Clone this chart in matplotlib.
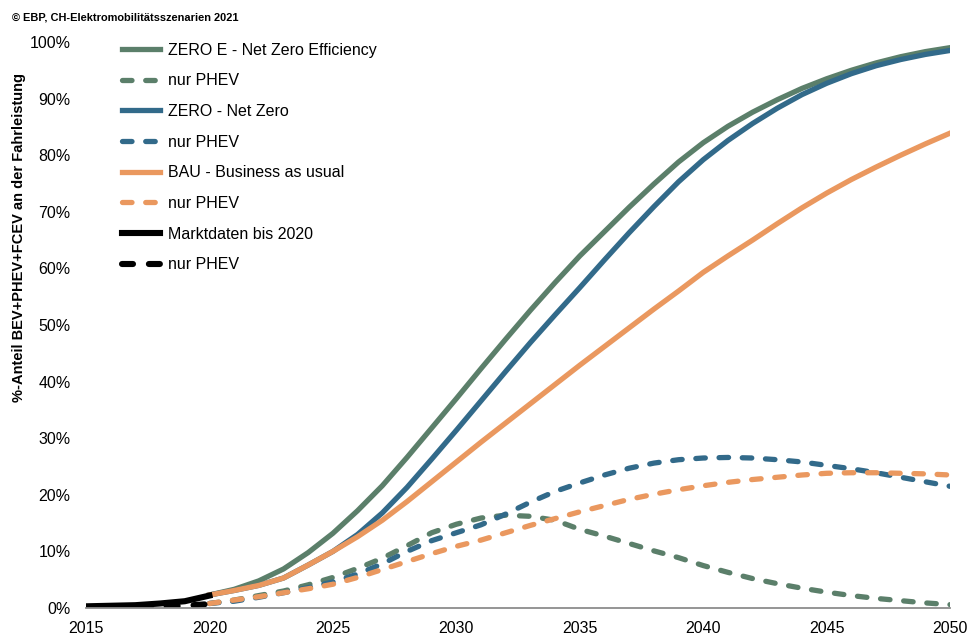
import matplotlib
matplotlib.use("Agg")
from matplotlib import pyplot as plt
from matplotlib.ticker import FuncFormatter

plt.rcParams['font.family'] = ['Liberation Sans', 'DejaVu Sans']

# Marktdaten 2015-2020
years_market = [2015, 2016, 2017, 2018, 2019, 2020]
market_total = [0.3, 0.4, 0.5, 0.8, 1.2, 2.2]
market_phev = [0.0, 0.05, 0.1, 0.2, 0.4, 0.7]

# Szenarien 2020-2050 (Anteil in %)
years = list(range(2020, 2051))
zero_e_total = [2.3, 3.3, 4.8, 6.9, 9.8, 13.2, 17.2, 21.6, 26.6, 31.8,
                37.0, 42.3, 47.5, 52.6, 57.5, 62.2, 66.5, 70.8, 74.9, 78.8,
                82.2, 85.1, 87.6, 89.8, 91.8, 93.5, 95.0, 96.3, 97.4, 98.3, 99.0]
zero_e_phev = [0.8, 1.4, 2.2, 3.0, 4.1, 5.4, 7.0, 8.8, 11.0, 13.3,
               14.8, 15.9, 16.4, 16.2, 15.5, 13.9, 12.7, 11.4, 10.1, 8.9,
               7.5, 6.3, 5.2, 4.3, 3.5, 2.8, 2.2, 1.7, 1.3, 0.9, 0.6]
zero_total = [2.3, 3.1, 4.0, 5.3, 7.6, 10.0, 13.0, 16.8, 21.3, 26.3,
              31.4, 36.6, 41.8, 46.9, 51.8, 56.6, 61.5, 66.3, 70.9, 75.3,
              79.2, 82.6, 85.6, 88.3, 90.7, 92.7, 94.4, 95.8, 96.9, 97.8, 98.5]
zero_phev = [0.8, 1.2, 1.9, 2.7, 3.6, 4.6, 6.0, 7.8, 10.0, 11.9,
             13.3, 14.7, 16.6, 18.7, 20.6, 22.1, 23.5, 24.7, 25.6, 26.2,
             26.5, 26.6, 26.5, 26.2, 25.8, 25.2, 24.6, 23.9, 23.1, 22.3, 21.5]
bau_total = [2.3, 3.1, 4.0, 5.3, 7.6, 10.0, 12.6, 15.5, 18.8, 22.3,
             25.8, 29.3, 32.7, 36.1, 39.5, 42.9, 46.2, 49.5, 52.8, 56.0,
             59.3, 62.2, 65.0, 67.9, 70.7, 73.3, 75.7, 77.9, 80.0, 82.0, 83.9]
bau_phev = [0.8, 1.4, 2.0, 2.7, 3.4, 4.2, 5.4, 6.8, 8.2, 9.6,
            10.9, 12.0, 13.3, 14.6, 15.8, 17.0, 18.1, 19.2, 20.1, 20.9,
            21.6, 22.2, 22.7, 23.1, 23.5, 23.8, 23.9, 23.9, 23.8, 23.7, 23.5]

green = '#5b7f6a'
blue = '#326a8a'
orange = '#ea985f'
lw = 3.8
dash = dict(linestyle=(0, (1.8, 2.6)), dash_capstyle='round')

fig = plt.figure(figsize=(9.72, 6.36), dpi=100)
ax = fig.add_axes([0.0885, 0.044, 0.889, 0.890])

ax.plot(years, zero_e_total, color=green, lw=lw, label='ZERO E - Net Zero Efficiency')
ax.plot(years, zero_e_phev, color=green, lw=lw, label='nur PHEV', **dash)
ax.plot(years, zero_total, color=blue, lw=lw, label='ZERO - Net Zero')
ax.plot(years, zero_phev, color=blue, lw=lw, label='nur PHEV', **dash)
ax.plot(years, bau_total, color=orange, lw=lw, label='BAU - Business as usual')
ax.plot(years, bau_phev, color=orange, lw=lw, label='nur PHEV', **dash)
ax.plot(years_market, market_total, color='black', lw=lw + 0.6, label='Marktdaten bis 2020')
ax.plot(years_market, market_phev, color='black', lw=lw + 0.6, label='nur PHEV', **dash)

ax.set_xlim(2015, 2050)
ax.set_ylim(0, 100)
ax.set_xticks(range(2015, 2051, 5))
ax.set_yticks(range(0, 101, 10))
ax.yaxis.set_major_formatter(FuncFormatter(lambda v, p: f'{v:.0f}%'))
ax.tick_params(axis='both', length=0, labelsize=11.5)
ax.tick_params(axis='y', pad=11)
ax.tick_params(axis='x', pad=9)
for s in ['top', 'right', 'left']:
    ax.spines[s].set_visible(False)
ax.spines['bottom'].set_color('#8c8c8c')
ax.spines['bottom'].set_linewidth(1.3)

ax.set_ylabel('%-Anteil BEV+PHEV+FCEV an der Fahrleistung', fontsize=10.5, fontweight='bold')
ax.yaxis.set_label_coords(-0.07, 0.655)

leg = ax.legend(loc='upper left', bbox_to_anchor=(0.1255, 0.933), bbox_transform=fig.transFigure,
                frameon=False, fontsize=11.5, borderpad=0, borderaxespad=0,
                handlelength=2.4, handletextpad=0.45, labelspacing=0.98)

fig.text(0.012, 0.972, '© EBP, CH-Elektromobilitätsszenarien 2021', fontsize=7.9,
         fontweight='bold', va='center', ha='left')

fig.savefig('out.png', dpi=100)
